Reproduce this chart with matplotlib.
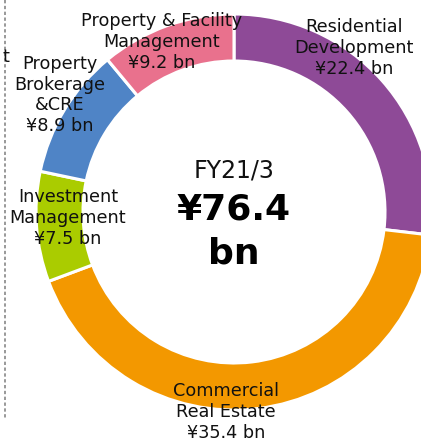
import matplotlib.pyplot as plt

# segment revenue, FY21/3 (JPY bn)
segments = ["Residential\nDevelopment", "Commercial\nReal Estate", "Investment\nManagement",
            "Property\nBrokerage\n&CRE", "Property & Facility\nManagement"]
values = [22.4, 35.4, 7.5, 8.9, 9.2]
colors = ["#8E4A97", "#F39800", "#AACC00", "#4F84C6", "#E9718D"]

W, H = 421, 441
fig = plt.figure(figsize=(W / 100, H / 100), dpi=100)
ax = fig.add_axes([0, 0, 1, 1])

cx, cy, r = 234, H - 212, 198
ax.pie(values, colors=colors, startangle=90, counterclock=False,
       radius=r, center=(cx, cy),
       wedgeprops=dict(width=47, edgecolor='white', linewidth=2.2))
ax.set_xlim(0, W)
ax.set_ylim(0, H)
ax.set_aspect('equal')
ax.axis('off')

# label positions in pixels (x, y from top)
label_pos = [(354, 48), (226, 412), (68, 218), (60, 95), (162, 42)]
for name, v, (x, y) in zip(segments, values, label_pos):
    ax.text(x, H - y, f"{name}\n¥{v} bn", ha='center', va='center',
            fontsize=12.7, linespacing=1.2, color='#111111')

# centre total
ax.text(cx, H - 178, "FY21/3", ha='center', va='baseline', fontsize=17, color='#111111')
ax.text(cx, H - 220, "¥76.4", ha='center', va='baseline', fontsize=26,
        fontweight='bold', color='black')
ax.text(cx, H - 263, "bn", ha='center', va='baseline', fontsize=26,
        fontweight='bold', color='black')

# cut-off neighbour panel
ax.text(9, H - 57, "t", ha='right', va='center', fontsize=12.7, color='#111111')
ax.plot([5, 5], [H, H - 418], color='#888888', linestyle=(0, (2, 1.5)), linewidth=1.2)

fig.savefig("out.png", dpi=100, facecolor='white')
